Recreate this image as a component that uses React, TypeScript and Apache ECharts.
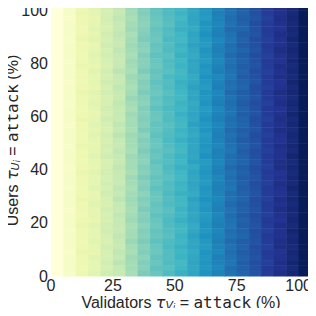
import React, { useEffect, useRef } from "react";
import * as echarts from "echarts";

// x categories (validators attack %), one column each
const xValues = [0, 5, 10, 15, 20, 25, 30, 35, 40, 45, 50, 55, 60, 65, 70, 75, 80, 85, 90, 95, 100];
// y rows (users attack %), listed top (100) to bottom (0)
const yValues = [
  100, 98, 96, 94, 92, 90, 88, 86, 84, 82, 80, 78, 76, 74, 72, 70, 68, 66, 64, 62,
  60, 58, 56, 54, 52, 50, 48, 46, 44, 42, 40, 38, 36, 34, 32, 30, 28, 26, 24, 22,
  20, 18, 16, 14, 12, 10, 8, 6, 4, 2, 0,
];
const xTicks = [0, 25, 50, 75, 100];
const yTicks = [0, 20, 40, 60, 80, 100];

// cell values (0..100), rows follow yValues, columns follow xValues
const cellValues = [
  [0, 6, 12, 16, 21, 26, 32, 37, 44, 48, 50, 56, 61, 66, 71, 75, 80, 86, 90, 94, 100],
  [0, 6, 13, 15, 20, 25, 31, 37, 43, 47, 51, 55, 60, 67, 70, 74, 79, 85, 89, 93, 100],
  [0, 5, 12, 14, 21, 26, 30, 36, 42, 46, 49, 56, 59, 66, 71, 75, 78, 84, 90, 94, 100],
  [0, 6, 12, 15, 20, 24, 31, 35, 41, 45, 51, 55, 61, 65, 70, 74, 80, 85, 89, 93, 100],
  [0, 6, 11, 16, 19, 25, 32, 36, 43, 47, 52, 54, 60, 66, 72, 73, 79, 86, 88, 94, 100],
  [0, 6, 12, 15, 21, 26, 30, 37, 42, 46, 50, 56, 62, 67, 70, 75, 78, 85, 90, 93, 100],
  [0, 5, 13, 16, 20, 25, 31, 38, 41, 48, 49, 55, 60, 65, 69, 74, 80, 84, 89, 95, 100],
  [0, 6, 12, 14, 22, 24, 32, 36, 43, 46, 51, 57, 59, 66, 71, 76, 79, 86, 89, 93, 100],
  [0, 6, 12, 15, 20, 26, 31, 35, 42, 47, 50, 55, 61, 67, 70, 73, 78, 85, 91, 94, 100],
  [0, 6, 11, 16, 21, 25, 30, 37, 44, 45, 52, 54, 60, 66, 72, 75, 80, 84, 89, 93, 100],
  [0, 5, 12, 15, 20, 24, 32, 36, 42, 47, 50, 56, 59, 65, 70, 74, 79, 86, 88, 94, 100],
  [0, 6, 13, 14, 19, 25, 31, 36, 41, 46, 51, 55, 61, 66, 71, 75, 78, 85, 90, 93, 100],
  [0, 6, 12, 16, 21, 27, 30, 38, 43, 45, 49, 56, 60, 67, 70, 74, 80, 84, 89, 94, 100],
  [0, 6, 12, 15, 20, 25, 32, 35, 42, 48, 50, 54, 62, 65, 69, 76, 79, 86, 90, 93, 100],
  [0, 5, 11, 15, 22, 24, 31, 37, 44, 46, 52, 55, 60, 66, 71, 74, 78, 85, 88, 95, 100],
  [0, 6, 12, 14, 20, 26, 30, 36, 42, 47, 51, 57, 59, 67, 70, 73, 80, 84, 89, 93, 100],
  [0, 6, 13, 16, 21, 25, 31, 38, 41, 45, 50, 55, 61, 65, 72, 75, 79, 86, 91, 94, 100],
  [0, 6, 12, 15, 19, 24, 33, 36, 43, 47, 49, 56, 60, 66, 70, 74, 78, 85, 89, 93, 100],
  [0, 5, 12, 16, 20, 26, 31, 35, 42, 46, 51, 54, 61, 67, 71, 76, 80, 84, 90, 94, 100],
  [0, 6, 11, 15, 21, 25, 30, 37, 44, 48, 50, 55, 59, 65, 70, 74, 79, 86, 88, 93, 100],
  [0, 6, 12, 14, 20, 25, 32, 36, 42, 46, 52, 56, 60, 66, 69, 75, 78, 85, 89, 95, 100],
  [0, 6, 13, 15, 22, 24, 31, 37, 41, 47, 50, 55, 62, 67, 71, 74, 80, 84, 90, 93, 100],
  [0, 5, 12, 16, 20, 26, 31, 36, 43, 45, 49, 57, 60, 65, 70, 73, 79, 86, 89, 94, 100],
  [0, 6, 12, 15, 19, 25, 30, 38, 42, 46, 51, 55, 61, 66, 72, 75, 78, 85, 91, 93, 100],
  [0, 6, 11, 16, 21, 27, 32, 35, 44, 47, 50, 54, 59, 67, 70, 74, 80, 84, 89, 94, 100],
  [0, 6, 12, 15, 20, 25, 31, 37, 42, 48, 52, 56, 60, 66, 71, 76, 79, 86, 88, 93, 100],
  [0, 5, 13, 14, 21, 24, 31, 36, 41, 46, 50, 55, 61, 65, 70, 74, 78, 85, 90, 94, 100],
  [0, 6, 12, 15, 20, 26, 30, 38, 43, 45, 49, 56, 60, 67, 69, 75, 80, 84, 89, 93, 100],
  [0, 6, 12, 16, 22, 25, 32, 36, 42, 47, 51, 55, 62, 66, 71, 74, 79, 86, 89, 95, 100],
  [0, 6, 11, 15, 19, 24, 31, 35, 44, 46, 50, 57, 59, 65, 70, 73, 78, 85, 90, 93, 100],
  [0, 5, 12, 14, 20, 26, 31, 37, 42, 48, 52, 54, 60, 66, 72, 75, 80, 84, 91, 94, 100],
  [0, 6, 13, 16, 21, 25, 30, 36, 41, 46, 50, 56, 61, 67, 70, 74, 79, 86, 88, 93, 100],
  [0, 6, 12, 15, 20, 25, 32, 38, 43, 45, 49, 55, 60, 65, 71, 76, 78, 85, 89, 94, 100],
  [0, 6, 12, 15, 21, 24, 31, 36, 42, 47, 51, 56, 59, 66, 70, 74, 80, 84, 90, 93, 100],
  [0, 5, 11, 16, 20, 26, 30, 37, 44, 46, 50, 55, 61, 67, 69, 75, 79, 86, 89, 95, 100],
  [0, 6, 12, 14, 22, 25, 31, 35, 42, 48, 52, 54, 60, 66, 71, 74, 78, 85, 88, 93, 100],
  [0, 6, 13, 15, 20, 27, 32, 37, 41, 46, 50, 57, 62, 65, 70, 73, 80, 84, 90, 94, 100],
  [0, 6, 12, 16, 19, 25, 31, 36, 43, 47, 49, 55, 60, 66, 72, 75, 79, 86, 89, 93, 100],
  [0, 5, 12, 15, 21, 24, 30, 38, 42, 45, 51, 56, 61, 67, 70, 74, 78, 85, 91, 94, 100],
  [0, 6, 11, 15, 20, 26, 31, 36, 44, 46, 50, 55, 59, 65, 71, 76, 80, 84, 89, 93, 100],
  [0, 6, 12, 14, 20, 25, 32, 37, 42, 48, 52, 56, 60, 66, 70, 74, 79, 86, 88, 94, 100],
  [0, 6, 13, 16, 21, 25, 30, 35, 41, 47, 50, 54, 61, 67, 69, 75, 78, 85, 90, 93, 100],
  [0, 5, 12, 15, 22, 24, 31, 37, 43, 46, 49, 55, 60, 65, 71, 74, 80, 84, 89, 95, 100],
  [0, 6, 12, 15, 20, 26, 31, 36, 42, 45, 51, 57, 62, 66, 70, 73, 79, 86, 89, 93, 100],
  [0, 6, 11, 16, 19, 25, 33, 38, 44, 47, 50, 55, 60, 67, 72, 75, 78, 85, 90, 94, 100],
  [0, 6, 12, 15, 21, 24, 31, 36, 42, 48, 52, 56, 59, 66, 70, 74, 80, 84, 91, 93, 100],
  [0, 5, 13, 14, 20, 26, 30, 37, 41, 46, 50, 54, 61, 65, 71, 76, 79, 86, 88, 94, 100],
  [0, 6, 12, 16, 20, 25, 32, 35, 43, 46, 51, 55, 60, 67, 70, 74, 78, 85, 89, 93, 100],
  [0, 6, 12, 15, 21, 27, 31, 37, 42, 47, 49, 56, 61, 66, 69, 75, 80, 84, 90, 95, 100],
  [0, 6, 11, 15, 20, 25, 31, 36, 44, 45, 50, 55, 60, 65, 71, 74, 79, 86, 89, 93, 100],
  [0, 5, 12, 16, 22, 24, 30, 38, 42, 47, 52, 56, 62, 66, 70, 73, 78, 85, 90, 94, 100],
];

const ylgnbu = ["#ffffd9", "#edf8b1", "#c7e9b4", "#7fcdbb", "#41b6c4", "#1d91c0", "#225ea8", "#253494", "#081d58"];
const cellW = 5;
const cellH = 2;

const textColor = "#262626";
const sans = "Liberation Sans, Arial, sans-serif";

export default function App() {
  const ref = useRef<HTMLDivElement>(null);
  useEffect(() => {
    if (!ref.current) return;
    const chart = echarts.init(ref.current, null, { renderer: "svg" });
    const data: number[][] = [];
    yValues.forEach((y, r) => {
      xValues.forEach((x, c) => {
        data.push([x, y, cellValues[r][c]]);
      });
    });
    const rich = {
      n: { fontSize: 16, fontFamily: sans, color: textColor },
      t: { fontSize: 16, fontFamily: "DejaVu Sans", fontStyle: "italic", color: textColor },
      s: { fontSize: 11, fontFamily: "DejaVu Sans", fontStyle: "italic", color: textColor, padding: [7, 0, 0, 0] },
      ss: { fontSize: 8, fontFamily: "DejaVu Sans", fontStyle: "italic", color: textColor, padding: [10, 0, 0, 0] },
      m: { fontSize: 16, fontFamily: "DejaVu Sans Mono", color: textColor },
    };
    chart.setOption({
      animation: false,
      grid: { left: 51, top: 5, width: 260, height: 271, containLabel: false, outerBoundsMode: "none" },
      visualMap: {
        show: false,
        type: "continuous",
        min: 0,
        max: 100,
        dimension: 2,
        seriesIndex: 0,
        inRange: { color: ylgnbu },
      },
      xAxis: {
        type: "value",
        min: 0,
        max: 105,
        interval: 25,
        axisLine: { show: false },
        axisTick: { show: false },
        splitLine: { show: false },
        axisLabel: {
          fontSize: 16,
          color: textColor,
          fontFamily: sans,
          margin: 1,
          showMaxLabel: false,
          formatter: (v: number) => (xTicks.includes(v) ? String(v) : ""),
        },
        name: "{n|Validators }{t|τ}{s|V}{ss|i}{n| = }{m|attack}{n| (%)}",
        nameLocation: "middle",
        nameGap: 17,
        nameMoveOverlap: false,
        nameTextStyle: { rich, fontSize: 16, color: textColor },
      },
      yAxis: {
        type: "value",
        min: 0,
        max: 102,
        interval: 20,
        axisLine: { show: false },
        axisTick: { show: false },
        splitLine: { show: false },
        axisLabel: {
          fontSize: 16,
          color: textColor,
          fontFamily: sans,
          margin: 3,
          showMaxLabel: false,
          formatter: (v: number) => (yTicks.includes(v) ? String(v) : ""),
        },
        name: "{n|Users }{t|τ}{s|U}{ss|i}{n| = }{m|attack}{n| (%)}",
        nameLocation: "middle",
        nameGap: 30,
        nameRotate: 90,
        nameMoveOverlap: false,
        nameTextStyle: { rich, fontSize: 16, color: textColor },
      },
      series: [
        {
          type: "custom",
          data,
          renderItem: (params: any, api: any) => {
            const x = api.value(0);
            const y = api.value(1);
            const p0 = api.coord([x, y]);
            const p1 = api.coord([x + cellW, y + cellH]);
            return {
              type: "rect",
              shape: {
                x: p0[0],
                y: p1[1],
                width: p1[0] - p0[0] + 0.5,
                height: p0[1] - p1[1] + 0.5,
              },
              style: { fill: api.visual("color") },
            };
          },
        },
      ],
    });
    return () => chart.dispose();
  }, []);
  return <div ref={ref} style={{ width: 316, height: 316, margin: -8 }} />;
}
